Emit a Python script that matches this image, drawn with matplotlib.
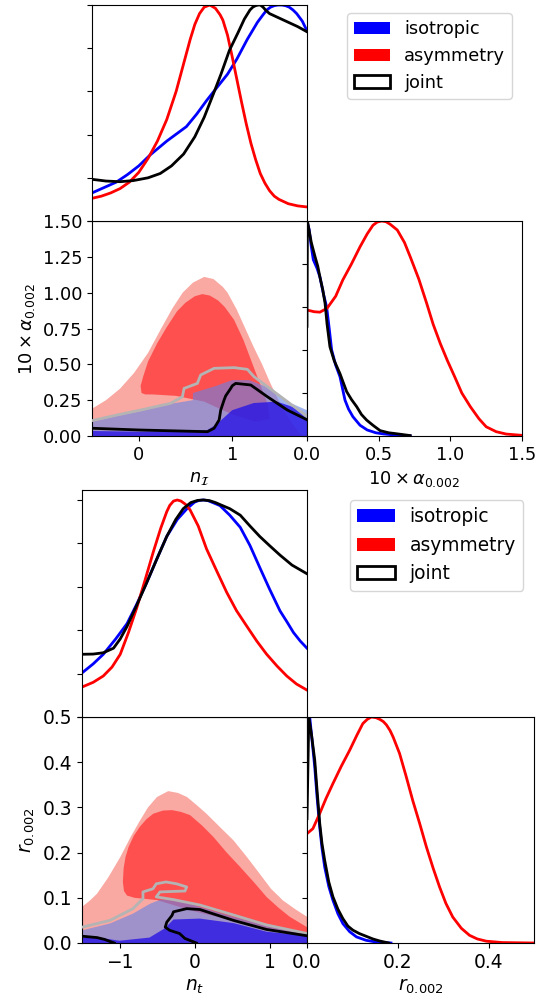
import matplotlib
matplotlib.use("Agg")
import matplotlib.pyplot as plt
from matplotlib.patches import Patch

# ---------------- Data: corner 1 (n_I vs 10*alpha) ----------------
nI_red_x = [-0.5,-0.4,-0.3,-0.2,-0.1,0.0,0.1,0.2,0.3,0.4,0.45,0.5,0.55,0.6,0.65,0.7,0.76,0.82,0.87,0.9,0.95,1.0,1.05,1.1,1.15,1.2,1.25,1.3,1.35,1.4,1.45,1.5,1.6,1.7,1.8]
nI_red_p = [0.105,0.115,0.13,0.15,0.18,0.225,0.29,0.37,0.47,0.6,0.68,0.76,0.84,0.91,0.96,0.99,1.0,0.985,0.955,0.93,0.86,0.76,0.655,0.55,0.45,0.36,0.285,0.22,0.175,0.14,0.115,0.10,0.08,0.07,0.065]
nI_blue_x = [-0.5,-0.37,-0.24,-0.12,0.0,0.12,0.3,0.51,0.62,0.73,0.84,0.95,1.05,1.16,1.27,1.33,1.37,1.41,1.45,1.49,1.53,1.57,1.61,1.65,1.69,1.75,1.8]
nI_blue_p = [0.13,0.155,0.18,0.215,0.255,0.305,0.37,0.437,0.495,0.56,0.62,0.68,0.75,0.84,0.92,0.955,0.977,0.99,0.997,1.0,1.0,0.997,0.99,0.977,0.96,0.925,0.88]
nI_joint_x = [-0.5,-0.35,-0.2,-0.06,0.1,0.23,0.35,0.48,0.6,0.7,0.8,0.88,0.97,1.06,1.13,1.19,1.22,1.25,1.28,1.3,1.33,1.36,1.4,1.47,1.6,1.7,1.8]
nI_joint_p = [0.193,0.185,0.182,0.187,0.2,0.22,0.255,0.31,0.39,0.48,0.59,0.68,0.79,0.87,0.935,0.977,0.99,0.997,1.0,1.0,0.99,0.975,0.96,0.946,0.92,0.9,0.876]

al_red_x = [0,0.05,0.09,0.14,0.2,0.25,0.31,0.37,0.42,0.46,0.49,0.52,0.55,0.58,0.63,0.68,0.72,0.78,0.835,0.88,0.93,0.98,1.03,1.08,1.14,1.2,1.25,1.32,1.39,1.5]
al_red_p = [0.586,0.578,0.576,0.594,0.65,0.726,0.80,0.88,0.94,0.98,0.995,1.0,0.997,0.985,0.958,0.9,0.834,0.73,0.617,0.52,0.43,0.35,0.276,0.2,0.136,0.08,0.043,0.02,0.009,0.003]
al_blue_x = [0.0,0.015,0.03,0.044,0.07,0.09,0.115,0.137,0.155,0.172,0.2,0.23,0.265,0.29,0.32,0.37,0.42,0.48,0.53,0.62,0.72]
al_blue_p = [1.0,0.96,0.88,0.82,0.78,0.74,0.66,0.6,0.5,0.4,0.33,0.276,0.167,0.125,0.09,0.05,0.028,0.015,0.01,0.004,0.0]
al_joint_x = [0.0,0.003,0.03,0.056,0.075,0.09,0.11,0.126,0.14,0.16,0.19,0.23,0.255,0.277,0.31,0.347,0.38,0.416,0.46,0.51,0.57,0.63,0.72]
al_joint_p = [0.51,1.0,0.9,0.834,0.79,0.74,0.68,0.617,0.52,0.415,0.35,0.29,0.245,0.206,0.17,0.136,0.1,0.074,0.05,0.025,0.015,0.01,0.002]

# 2D contours (boundaries)
c1_red_outer_n = [-0.5,-0.35,-0.2,-0.05,0.1,0.24,0.36,0.47,0.58,0.7,0.8,0.9,0.95,1.05,1.14,1.23,1.32,1.4,1.48,1.56,1.65,1.72,1.75,-0.5]
c1_red_outer_a = [0.19,0.25,0.33,0.44,0.58,0.75,0.89,1.0,1.07,1.11,1.095,1.04,1.0,0.88,0.75,0.62,0.5,0.38,0.27,0.17,0.08,0.02,0.0,0.0]
c1_red_inner_n = [0.07,0.03,0.02,0.05,0.1,0.2,0.3,0.41,0.5,0.6,0.68,0.76,0.85,0.92,1.02,1.12,1.23,1.3,1.38,1.4,1.25,1.0,0.7,0.4,0.15]
c1_red_inner_a = [0.29,0.3,0.35,0.42,0.52,0.65,0.76,0.87,0.93,0.975,0.99,0.98,0.945,0.9,0.81,0.67,0.48,0.36,0.22,0.12,0.1,0.15,0.24,0.28,0.29]
c1_blue_outer_n = [-0.5,-0.23,0.0,0.3,0.58,0.58,0.83,1.0,1.18,1.38,1.59,1.8,1.8,-0.5]
c1_blue_outer_a = [0.10,0.14,0.17,0.22,0.25,0.30,0.35,0.39,0.39,0.34,0.24,0.18,0.0,0.0]
c1_blue_inner_n = [-0.5,0.0,0.73,0.83,1.0,1.23,1.48,1.66,1.8,1.8,-0.5]
c1_blue_inner_a = [0.035,0.03,0.04,0.08,0.18,0.23,0.24,0.2,0.12,0.0,0.0]
c1_joint95_n = [-0.5,-0.228,0.021,0.342,0.467,0.485,0.627,0.663,0.806,1.02,1.162,1.233,1.376,1.59,1.804]
c1_joint95_a = [0.107,0.147,0.181,0.228,0.274,0.332,0.367,0.426,0.472,0.477,0.465,0.414,0.344,0.240,0.135]
c1_joint68_n = [-0.5,0.0,0.735,0.806,0.86,0.877,0.913,0.93,0.984,1.0,1.037,1.198,1.376,1.59,1.804]
c1_joint68_a = [0.054,0.042,0.030,0.054,0.112,0.181,0.251,0.28,0.332,0.35,0.367,0.356,0.274,0.181,0.112]

# ---------------- Data: corner 2 (n_t vs r) ----------------
nt_red_x = [-1.5,-1.35,-1.216,-1.1,-0.99,-0.88,-0.77,-0.66,-0.55,-0.45,-0.37,-0.33,-0.28,-0.23,-0.18,-0.12,-0.06,0.05,0.16,0.3,0.43,0.56,0.7,0.83,0.96,1.1,1.23,1.36,1.5]
nt_red_p = [0.138,0.16,0.189,0.23,0.289,0.39,0.503,0.63,0.76,0.87,0.946,0.975,0.995,1.0,0.995,0.98,0.955,0.88,0.775,0.67,0.574,0.49,0.417,0.35,0.29,0.235,0.189,0.152,0.124]
nt_blue_x = [-1.5,-1.35,-1.216,-1.05,-0.9,-0.77,-0.64,-0.5,-0.37,-0.23,-0.1,0.0,0.06,0.12,0.18,0.23,0.34,0.47,0.61,0.74,0.87,1.0,1.14,1.23,1.32,1.41,1.5]
nt_blue_p = [0.203,0.245,0.289,0.36,0.43,0.52,0.617,0.73,0.832,0.91,0.96,0.99,0.998,1.0,0.997,0.99,0.974,0.93,0.874,0.79,0.689,0.59,0.489,0.44,0.389,0.35,0.317]
nt_joint_x = [-1.5,-1.35,-1.216,-1.08,-0.99,-0.9,-0.77,-0.64,-0.5,-0.37,-0.25,-0.15,-0.05,0.04,0.12,0.2,0.28,0.36,0.47,0.61,0.74,0.87,1.0,1.14,1.3,1.5]
nt_joint_p = [0.289,0.29,0.296,0.317,0.36,0.417,0.515,0.617,0.73,0.832,0.91,0.96,0.988,0.998,1.0,0.997,0.988,0.976,0.96,0.93,0.88,0.832,0.79,0.746,0.7,0.66]

r_red_x = [0,0.013,0.028,0.042,0.057,0.075,0.094,0.11,0.123,0.133,0.142,0.152,0.16,0.168,0.175,0.183,0.19,0.204,0.218,0.233,0.248,0.263,0.278,0.292,0.306,0.321,0.34,0.358,0.375,0.395,0.43,0.5]
r_red_p = [0.484,0.506,0.573,0.64,0.705,0.78,0.853,0.92,0.971,0.99,1.0,0.997,0.99,0.98,0.965,0.94,0.91,0.838,0.74,0.63,0.53,0.425,0.33,0.248,0.175,0.115,0.065,0.034,0.018,0.008,0.002,0.0]
r_blue_x = [0.0,0.006,0.012,0.017,0.022,0.028,0.033,0.039,0.048,0.057,0.068,0.079,0.094,0.109,0.13,0.15,0.185]
r_blue_p = [0.95,1.0,0.88,0.78,0.65,0.513,0.42,0.336,0.25,0.19,0.13,0.086,0.05,0.027,0.012,0.005,0.0]
r_joint_x = [0.0,0.004,0.01,0.017,0.022,0.028,0.033,0.039,0.048,0.057,0.068,0.079,0.09,0.101,0.115,0.13,0.145,0.16,0.18]
r_joint_p = [0.55,1.0,0.92,0.81,0.68,0.53,0.44,0.365,0.27,0.205,0.15,0.108,0.075,0.057,0.042,0.03,0.018,0.009,0.0]

c2_red_outer_n = [-1.5,-1.4,-1.3,-1.15,-0.99,-0.85,-0.73,-0.62,-0.5,-0.35,-0.22,-0.1,0.03,0.16,0.33,0.52,0.7,0.87,1.02,1.18,1.35,1.5,1.5,-1.5]
c2_red_outer_r = [0.08,0.093,0.109,0.145,0.19,0.235,0.27,0.3,0.323,0.336,0.332,0.323,0.305,0.286,0.258,0.227,0.19,0.153,0.12,0.094,0.074,0.058,0.0,0.0]
c2_red_inner_n = [-0.9,-0.94,-0.955,-0.945,-0.92,-0.88,-0.81,-0.73,-0.64,-0.55,-0.42,-0.3,-0.18,-0.06,0.1,0.25,0.43,0.61,0.8,0.96,1.12,1.27,1.5,1.5,1.0,0.5,0.0,-0.5,-0.8]
c2_red_inner_r = [0.105,0.115,0.135,0.165,0.19,0.212,0.237,0.257,0.274,0.286,0.293,0.294,0.29,0.283,0.26,0.235,0.2,0.168,0.133,0.102,0.078,0.058,0.035,0.015,0.03,0.05,0.07,0.095,0.1]
c2_blue_outer_n = [-1.5,-1.13,-0.82,-0.59,-0.45,-0.2,0.07,0.52,0.96,1.5,1.5,-1.5]
c2_blue_outer_r = [0.028,0.043,0.065,0.087,0.096,0.094,0.08,0.058,0.039,0.021,0.0,0.0]
c2_blue_inner_n = [-1.5,-1.2,-1.0,-0.6,-0.4,-0.28,0.07,0.52,0.96,1.5,1.5,-1.5]
c2_blue_inner_r = [0.012,0.01,0.005,0.012,0.032,0.052,0.054,0.044,0.025,0.016,0.0,0.0]
c2_joint95_n = [-1.5,-1.127,-0.82,-0.687,-0.687,-0.553,-0.51,-0.38,-0.24,-0.104,-0.127,-0.46,-0.51,-0.28,0.073,0.52,0.96,1.5]
c2_joint95_r = [0.035,0.05,0.076,0.098,0.113,0.12,0.131,0.135,0.131,0.124,0.115,0.113,0.102,0.096,0.084,0.062,0.04,0.021]
c2_joint68a_n = [-1.5,-1.3,-1.2,-1.12,-1.07]
c2_joint68a_r = [0.015,0.012,0.008,0.003,0.0]
c2_joint68b_n = [0.026,-0.127,-0.2,-0.33,-0.39,-0.37,-0.3,-0.28,-0.104,0.073,0.52,0.96,1.5]
c2_joint68b_r = [0.0,0.01,0.021,0.028,0.035,0.046,0.061,0.069,0.076,0.074,0.05,0.03,0.016]

labels = ["isotropic", "asymmetry", "joint"]

# ---------------- Styles ----------------
RED_OUT = "#f9a8a2"
RED_IN = "#ff5050"
BLUE_OUT = (100/255, 130/255, 230/255)
BLUE_IN = (40/255, 20/255, 230/255)
LW = 2.0

W, H = 548, 1002
fig = plt.figure(figsize=(W/100, H/100), dpi=100)


def ax_px(x0, y0, x1, y1):
    return fig.add_axes([x0/W, 1 - y1/H, (x1-x0)/W, (y1-y0)/H])


def corner(fs, box, xlim, ylim2d, xticks, yticks, ytlabels, rlim, rticks,
           top_ylim, xlab, ylab, rlab,
           top_data, right_data, fills, lines95, lines68, leg_anchor):
    (lx0, lx1, rx1, ty0, my, by) = box
    # 2D panel
    a2 = ax_px(lx0, my, lx1, by)
    for (xs, ys, col, alpha) in fills:
        a2.fill(xs, ys, color=col, alpha=alpha, lw=0, zorder=1)
    for (xs, ys) in lines95:
        a2.plot(xs, ys, color="#b4b4b4", lw=LW, zorder=3)
    for (xs, ys) in lines68:
        a2.plot(xs, ys, color="black", lw=LW, zorder=4)
    a2.set_xlim(*xlim)
    a2.set_ylim(*ylim2d)
    a2.set_xticks(xticks)
    a2.set_xticklabels([("\u2212%d" % -t) if t < 0 else "%d" % t for t in xticks], fontsize=fs)
    a2.set_yticks(yticks)
    a2.set_yticklabels(ytlabels, fontsize=fs)
    a2.set_xlabel(xlab, fontsize=fs)
    a2.set_ylabel(ylab, fontsize=fs)

    # right 1D panel
    ar = ax_px(lx1, my, rx1, by)
    for (xs, ys, col) in right_data:
        ar.plot(xs, ys, color=col, lw=LW)
    ar.set_xlim(*rlim)
    ar.set_ylim(0, 1)
    ar.set_xticks(rticks)
    ar.set_xticklabels(["%.1f" % t for t in rticks], fontsize=fs)
    ar.set_yticks([0, 0.2, 0.4, 0.6, 0.8, 1.0])
    ar.set_yticklabels([])
    ar.set_xlabel(rlab, fontsize=fs)

    # top 1D panel
    at = ax_px(lx0, ty0, lx1, my)
    for (xs, ys, col) in top_data:
        at.plot(xs, ys, color=col, lw=LW)
    at.set_xlim(*xlim)
    at.set_ylim(*top_ylim)
    at.set_xticks([])
    at.set_yticks([0, 0.2, 0.4, 0.6, 0.8, 1.0])
    at.set_yticklabels([])

    handles = [Patch(facecolor="blue", edgecolor="none"),
               Patch(facecolor="red", edgecolor="none"),
               Patch(facecolor="white", edgecolor="black", lw=2)]
    fig.legend(handles, labels, loc="upper left", fontsize=fs, borderaxespad=0,
               bbox_to_anchor=(leg_anchor[0]/W, 1 - leg_anchor[1]/H))


corner(12.8, (92, 307, 522, 5, 221, 436), (-0.5, 1.8), (0, 1.5), [0, 1],
       [0, 0.25, 0.5, 0.75, 1.0, 1.25, 1.5], ["0.00", "0.25", "0.50", "0.75", "1.00", "1.25", "1.50"],
       (0, 1.5), [0, 0.5, 1.0, 1.5], (0, 1),
       r"$n_\mathcal{I}$", r"$10\times\alpha_{0.002}$", r"$10\times\alpha_{0.002}$",
       [(nI_blue_x, nI_blue_p, "blue"), (nI_red_x, nI_red_p, "red"), (nI_joint_x, nI_joint_p, "black")],
       [(al_blue_x, al_blue_p, "blue"), (al_red_x, al_red_p, "red"), (al_joint_x, al_joint_p, "black")],
       [(c1_red_outer_n, c1_red_outer_a, RED_OUT, 1.0),
        (c1_red_inner_n, c1_red_inner_a, RED_IN, 1.0),
        (c1_blue_outer_n, c1_blue_outer_a, BLUE_OUT, 0.6),
        (c1_blue_inner_n, c1_blue_inner_a, BLUE_IN, 0.8)],
       [(c1_joint95_n, c1_joint95_a)],
       [(c1_joint68_n, c1_joint68_a)],
       (347, 13))

corner(13.4, (82, 307, 534, 490, 717, 943), (-1.5, 1.5), (0, 0.5), [-1, 0, 1],
       [0, 0.1, 0.2, 0.3, 0.4, 0.5], ["0.0", "0.1", "0.2", "0.3", "0.4", "0.5"],
       (0, 0.5), [0, 0.2, 0.4], (0.073, 1.046),
       r"$n_t$", r"$r_{0.002}$", r"$r_{0.002}$",
       [(nt_blue_x, nt_blue_p, "blue"), (nt_red_x, nt_red_p, "red"), (nt_joint_x, nt_joint_p, "black")],
       [(r_blue_x, r_blue_p, "blue"), (r_red_x, r_red_p, "red"), (r_joint_x, r_joint_p, "black")],
       [(c2_red_outer_n, c2_red_outer_r, RED_OUT, 1.0),
        (c2_red_inner_n, c2_red_inner_r, RED_IN, 1.0),
        (c2_blue_outer_n, c2_blue_outer_r, BLUE_OUT, 0.6),
        (c2_blue_inner_n, c2_blue_inner_r, BLUE_IN, 0.8)],
       [(c2_joint95_n, c2_joint95_r)],
       [(c2_joint68a_n, c2_joint68a_r), (c2_joint68b_n, c2_joint68b_r)],
       (350, 500))

fig.savefig("out.png", dpi=100)
